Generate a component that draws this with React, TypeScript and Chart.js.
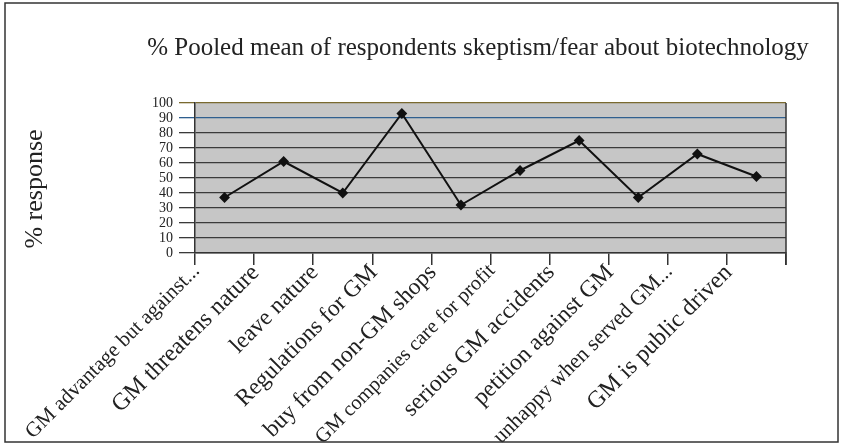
import React, { useEffect, useRef } from "react";
import { Chart, registerables } from "chart.js";

Chart.register(...registerables);

const categories: string[] = [
  "GM advantage but against...",
  "GM threatens nature",
  "leave nature",
  "Regulations for GM",
  "buy from non-GM shops",
  "GM companies care for profit",
  "serious GM accidents",
  "petition against GM",
  "unhappy when served GM...",
  "GM is public driven",
];
const values: number[] = [37, 61, 40, 93, 32, 55, 75, 37, 66, 51];
const yMin = 0;
const yMax = 100;
const yStep = 10;
const chartTitle = "% Pooled mean of respondents skeptism/fear about biotechnology";
const yAxisTitle = "% response";

const SERIF = '"Liberation Serif", "Times New Roman", serif';
// per-label font sizes (style only), as the scanned chart shrank the long labels
const LABEL_FONT_SIZES = [21, 24, 23.5, 23.5, 23.5, 20.5, 23.5, 23.5, 21.5, 24];

export default function App() {
  const ref = useRef<HTMLCanvasElement>(null);

  useEffect(() => {
    const canvas = ref.current;
    if (!canvas) return;

    const deco = {
      id: "deco",
      beforeDraw(chart: any) {
        const { ctx, chartArea: a } = chart;
        ctx.save();
        ctx.fillStyle = "#ffffff";
        ctx.fillRect(0, 0, chart.width, chart.height);
        ctx.fillStyle = "#c6c6c6";
        ctx.fillRect(a.left, a.top, a.right - a.left, a.bottom - a.top);
        ctx.restore();
      },
      afterDraw(chart: any) {
        const { ctx, chartArea: a } = chart;
        ctx.save();
        ctx.strokeStyle = "#333";
        ctx.lineWidth = 1.5;
        ctx.beginPath();
        ctx.moveTo(a.right, a.top);
        ctx.lineTo(a.right, a.bottom + 12);
        ctx.stroke();
        ctx.fillStyle = "#222";
        ctx.font = `25px ${SERIF}`;
        ctx.textAlign = "center";
        ctx.textBaseline = "middle";
        ctx.fillText(chartTitle, 478, 48);
        ctx.save();
        ctx.translate(35, 189);
        ctx.rotate(-Math.PI / 2);
        ctx.font = `26px ${SERIF}`;
        ctx.fillText(yAxisTitle, 0, 0);
        ctx.restore();
        ctx.strokeStyle = "#333";
        ctx.lineWidth = 1.5;
        ctx.strokeRect(5, 3, 833, 439);
        ctx.restore();
      },
    };

    const chart = new Chart(canvas, {
      type: "line",
      data: {
        labels: categories,
        datasets: [
          {
            data: values,
            borderColor: "#111",
            borderWidth: 2,
            pointStyle: "rectRot",
            pointRadius: 4,
            pointBackgroundColor: "#111",
            pointBorderColor: "#111",
            tension: 0,
          },
        ],
      },
      options: {
        responsive: false,
        animation: false,
        layout: { padding: { left: 8, right: 58, top: 103, bottom: 0 } },
        plugins: {
          legend: { display: false },
          tooltip: { enabled: false },
          title: { display: false },
        },
        scales: {
          x: {
            type: "category",
            offset: true,
            grid: {
              offset: true,
              drawOnChartArea: false,
              drawTicks: true,
              tickLength: 12,
              color: "#333",
              lineWidth: 1.5,
            },
            border: { display: true, color: "#333", width: 1.5 },
            ticks: {
              autoSkip: false,
              maxRotation: 45,
              minRotation: 45,
              padding: -6,
              labelOffset: -28,
              color: "#222",
              font: (ctx: any) => ({
                family: SERIF,
                size: LABEL_FONT_SIZES[ctx.index] ?? 23,
              }),
            },
            afterFit: (scale: any) => {
              scale.height = 194;
            },
          },
          y: {
            min: yMin,
            max: yMax,
            grid: {
              drawTicks: true,
              tickLength: 16,
              color: (ctx: any) =>
                ctx.tick && ctx.tick.value === 100
                  ? "#7a6a30"
                  : ctx.tick && ctx.tick.value === 90
                  ? "#2f5f8f"
                  : "#3a3a3a",
              lineWidth: 1.3,
            },
            border: { display: true, color: "#333", width: 1.5 },
            ticks: {
              stepSize: yStep,
              autoSkip: false,
              padding: 6,
              color: "#222",
              font: { family: SERIF, size: 14 },
            },
            afterFit: (scale: any) => {
              scale.width = 187;
            },
          },
        },
      },
      plugins: [deco],
    });

    return () => chart.destroy();
  }, []);

  return (
    <div style={{ position: "fixed", left: 0, top: 0, width: 844, height: 447 }}>
      <canvas ref={ref} width={844} height={447} style={{ width: 844, height: 447 }} />
    </div>
  );
}
